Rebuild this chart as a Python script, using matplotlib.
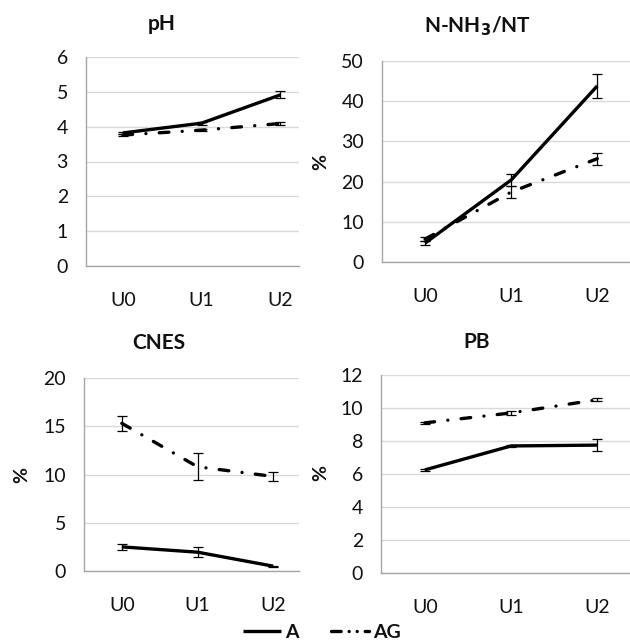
import matplotlib.pyplot as plt
from matplotlib.lines import Line2D

plt.rcParams['font.family'] = ['Lato', 'DejaVu Sans']

stages = ['U0', 'U1', 'U2']

# pH
ph_a = [3.82, 4.10, 4.91]
ph_a_err = [0.04, 0.04, 0.10]
ph_ag = [3.76, 3.90, 4.09]
ph_ag_err = [0.03, 0.03, 0.03]

# N-NH3 / total N (%)
nh3_a = [4.7, 20.4, 43.8]
nh3_a_err = [0.5, 1.5, 2.9]
nh3_ag = [5.7, 17.4, 25.7]
nh3_ag_err = [0.5, 1.6, 1.5]

# CNES (%)
cnes_a = [2.5, 1.95, 0.5]
cnes_a_err = [0.3, 0.5, 0.05]
cnes_ag = [15.3, 10.8, 9.8]
cnes_ag_err = [0.8, 1.4, 0.45]

# PB (%)
pb_a = [6.25, 7.7, 7.75]
pb_a_err = [0.05, 0.05, 0.35]
pb_ag = [9.1, 9.7, 10.5]
pb_ag_err = [0.05, 0.12, 0.1]

W, H = 630, 641
fig = plt.figure(figsize=(W / 100, H / 100), dpi=100)

LW = 2.4
DASH_DOT = (0, (2.9, 4.0, 0.01, 4.0))
GRID = '#d9d9d9'
SPINE = '#a6a6a6'
TXT = '#111111'
FS = 14
FS_TITLE = 15


def px_axes(x0, y0, x1, y1):
    return fig.add_axes([x0 / W, 1 - y1 / H, (x1 - x0) / W, (y1 - y0) / H])


def panel(box, xlim, ymax, ystep, a, a_err, ag, ag_err, title, title_xy, pct_xy=None):
    ax = px_axes(*box)
    x = range(len(stages))
    ax.plot(x, a, color='black', lw=LW, solid_capstyle='butt', zorder=3)
    ax.errorbar(x, a, yerr=a_err, fmt='none', ecolor='black', elinewidth=0.9,
                capsize=3.5, capthick=0.9, zorder=4)
    ax.plot(x, ag, color='black', lw=LW, linestyle=DASH_DOT, dash_capstyle='round',
            zorder=3)
    ax.errorbar(x, ag, yerr=ag_err, fmt='none', ecolor='black', elinewidth=0.9,
                capsize=3.5, capthick=0.9, zorder=4)
    ax.set_xlim(*xlim)
    ax.set_ylim(0, ymax)
    ax.set_yticks([v * ystep for v in range(int(round(ymax / ystep)) + 1)])
    ax.set_xticks(list(x))
    ax.set_xticklabels(stages)
    ax.tick_params(axis='both', length=0, labelsize=FS, colors=TXT)
    ax.tick_params(axis='x', pad=19)
    ax.tick_params(axis='y', pad=13)
    ax.grid(axis='y', color=GRID, lw=1.0)
    ax.set_axisbelow(True)
    for side in ('top', 'right'):
        ax.spines[side].set_visible(False)
    for side in ('left', 'bottom'):
        ax.spines[side].set_color(SPINE)
        ax.spines[side].set_linewidth(1.0)
    fig.text(title_xy[0] / W, 1 - title_xy[1] / H, title, ha='center', va='center',
             fontsize=FS_TITLE, fontweight='bold', color=TXT)
    if pct_xy is not None:
        fig.text(pct_xy[0] / W, 1 - pct_xy[1] / H, '%', ha='center', va='center',
                 rotation=90, fontsize=FS, fontweight='bold', color=TXT)
    return ax


panel((86, 57, 299, 266), (-0.47, 2.24), 6, 1, ph_a, ph_a_err, ph_ag, ph_ag_err,
      'pH', (162, 24))
panel((382, 61, 630, 262), (-0.5, 2.38), 50, 10, nh3_a, nh3_a_err, nh3_ag, nh3_ag_err,
      r'N-NH$_\mathbf{3}$/NT', (477, 26), (321, 162))
panel((84, 378, 299, 571), (-0.5, 2.34), 20, 5, cnes_a, cnes_a_err, cnes_ag, cnes_ag_err,
      'CNES', (159, 343), (22, 475))
panel((381, 375, 630, 573), (-0.51, 2.38), 12, 2, pb_a, pb_a_err, pb_ag, pb_ag_err,
      'PB', (477, 342), (321, 473))

handles = [
    Line2D([], [], color='black', lw=LW, solid_capstyle='butt'),
    Line2D([], [], color='black', lw=LW, dash_capstyle='round',
           linestyle=(0, (2.9, 2.4, 0.01, 2.4, 0.01, 2.4))),
]
leg = fig.legend(handles, ['A', 'AG'], loc='center', bbox_to_anchor=(322 / W, 1 - 632 / H),
                 ncol=2, frameon=False, handlelength=1.95, handletextpad=0.2,
                 columnspacing=1.7, borderpad=0, prop={'weight': 'bold', 'size': FS})
for t in leg.get_texts():
    t.set_color(TXT)

fig.savefig('out.png', dpi=100, facecolor='white')
